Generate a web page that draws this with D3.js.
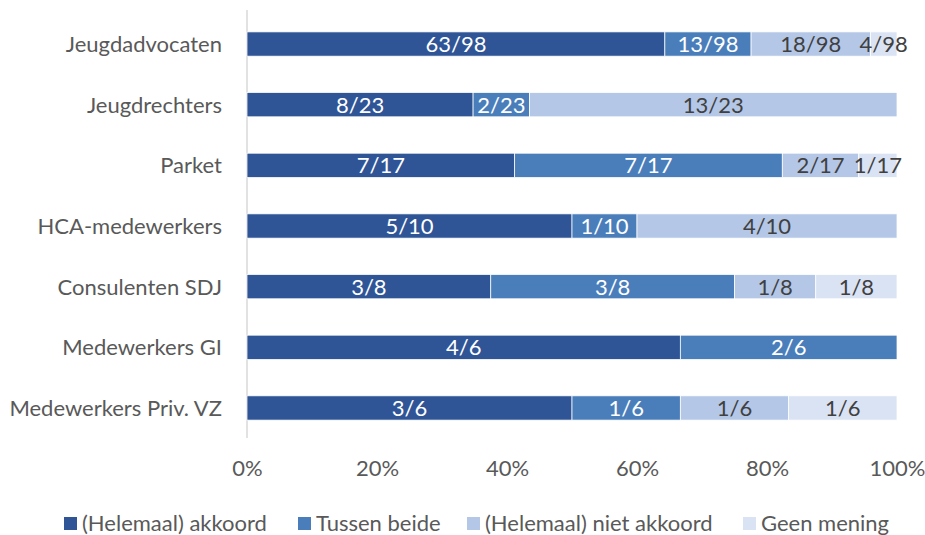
<!DOCTYPE html>
<html><head><meta charset="utf-8">
<script src="https://cdn.jsdelivr.net/npm/d3@7/dist/d3.min.js"></script>
<style>body{margin:0;background:#fff}svg{display:block}</style>
</head><body><svg id="c" width="925" height="535"></svg>
<script>
const categories = ["Jeugdadvocaten","Jeugdrechters","Parket","HCA-medewerkers","Consulenten SDJ","Medewerkers GI","Medewerkers Priv. VZ"];
const seriesNames = ["(Helemaal) akkoord","Tussen beide","(Helemaal) niet akkoord","Geen mening"];
const akkoord = [63,8,7,5,3,4,3];
const tussen = [13,2,7,1,3,2,1];
const nietAkkoord = [18,13,2,4,1,0,1];
const geenMening = [4,0,1,0,1,0,1];
const totals = [98,23,17,10,8,6,6];
const tickLabels = ["0%","20%","40%","60%","80%","100%"];
const colors = ["#2F5597","#4A7EBB","#B4C7E7","#DAE3F3"];
const labelColors = ["#ffffff","#ffffff","#404040","#404040"];

const svg = d3.select("#c");
const font = "Lato, sans-serif";
const fs = 22;
const x = d3.scaleLinear().domain([0,1]).range([247,897]);
const y = d3.scaleBand().domain(categories).range([13.7,438.3]).paddingInner(0.6).paddingOuter(0.3);

const seriesVals = [akkoord,tussen,nietAkkoord,geenMening];
const rows = categories.map((c,i)=>{
  const o={cat:c,total:totals[i]};
  seriesNames.forEach((s,j)=>o[s]=seriesVals[j][i]/totals[i]);
  return o;
});
const stack = d3.stack().keys(seriesNames)(rows);

svg.append("line").attr("x1",x(0)).attr("x2",x(0)).attr("y1",10).attr("y2",438)
  .attr("stroke","#d9d9d9").attr("stroke-width",1.5);

stack.forEach((layer,j)=>{
  const g = svg.append("g");
  layer.forEach((d,i)=>{
    const w = x(d[1])-x(d[0]);
    if(w<=0) return;
    g.append("rect").attr("x",x(d[0])).attr("y",y(categories[i]))
      .attr("width",w).attr("height",y.bandwidth())
      .attr("fill",colors[j]).attr("stroke","#fff").attr("stroke-width",0.75);
    g.append("text").attr("x",(x(d[0])+x(d[1]))/2).attr("y",y(categories[i])+y.bandwidth()/2)
      .attr("dy","0.36em").attr("text-anchor","middle")
      .attr("font-family",font).attr("font-size",fs).attr("fill",labelColors[j])
      .text(seriesVals[j][i]+"/"+totals[i]);
  });
});

svg.append("g").selectAll("text").data(categories).join("text")
  .attr("x",222).attr("y",d=>y(d)+y.bandwidth()/2).attr("dy","0.36em")
  .attr("text-anchor","end").attr("font-family",font).attr("font-size",fs).attr("fill","#595959")
  .text(d=>d);

const xa = svg.append("g").attr("transform","translate(0,457)")
  .call(d3.axisBottom(x).tickValues(d3.range(0,1.01,0.2)).tickFormat((d,i)=>tickLabels[i]).tickSize(0));
xa.select(".domain").remove();
xa.selectAll("text").attr("font-family",font).attr("font-size",fs).attr("fill","#595959").attr("dy","0.71em");

const legX = [64,298,467,743];
const lg = svg.append("g");
seriesNames.forEach((s,j)=>{
  lg.append("rect").attr("x",legX[j]).attr("y",517).attr("width",13).attr("height",13).attr("fill",colors[j]);
  lg.append("text").attr("x",legX[j]+18).attr("y",523).attr("dy","0.36em")
    .attr("font-family",font).attr("font-size",fs).attr("fill","#595959").text(s);
});
</script></body></html>
